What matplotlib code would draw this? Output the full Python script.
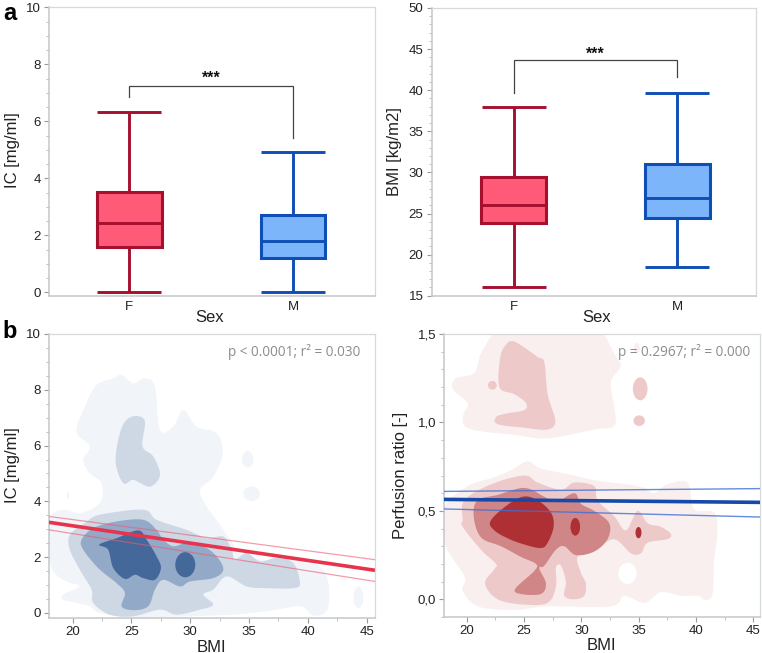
import numpy as np
import matplotlib
matplotlib.use("Agg")
import matplotlib.pyplot as plt
from matplotlib.patches import Ellipse
from matplotlib.ticker import MultipleLocator, FixedLocator

plt.rcParams['font.family'] = ['Liberation Sans', 'DejaVu Sans']

W, H = 762, 653
sex = ["F", "M"]
# box stats: whisker low, q1, median, q3, whisker high
ic_f = [0.03, 1.60, 2.42, 3.52, 6.33]
ic_m = [0.03, 1.20, 1.80, 2.70, 4.92]
bmi_f = [16.0, 23.8, 26.0, 29.5, 38.0]
bmi_m = [18.5, 24.5, 26.9, 31.0, 39.6]

# regression lines (BMI at the two ends, value, upper band, lower band)
bmi_ends = [18.0, 45.7]
ic_fit = [3.25, 1.53]
ic_hi = [3.46, 1.91]
ic_lo = [2.98, 1.13]
pr_fit = [0.565, 0.548]
pr_hi = [0.61, 0.626]
pr_lo = [0.511, 0.465]

# density contours of IC vs BMI (BMI, IC)
ic_l1 = [(24.17,8.53),(25.16,8.23),(26.15,8.41),(27.0,8.11),(27.43,6.56),(28.56,6.68),(29.41,7.28),(30.54,6.68),
         (32.24,6.44),(32.76,5.73),(31.96,4.89),(30.83,4.42),(31.39,3.82),(32.24,3.34),(33.38,2.63),(34.23,2.15),
         (36.21,1.91),(37.91,2.03),(39.47,1.91),(41.03,1.67),(41.74,1.07),(41.74,0.24),(41.17,-0.06),(40.32,-0.06),
         (39.33,0.24),(36.5,0.06),(33.66,-0.06),(29.41,-0.12),(25.16,-0.16),(22.32,0.0),(21.47,0.24),(20.34,0.36),
         (19.21,0.48),(19.21,0.66),(20.62,0.95),(19.49,1.13),(18.5,1.43),(18.07,1.91),(18.0,3.34),(19.21,3.7),
         (20.62,3.58),(22.32,3.94),(22.47,4.65),(21.47,5.01),(20.91,5.49),(21.47,5.97),(20.34,6.5),(21.05,7.4),
         (22.04,8.17),(23.46,8.41)]
ic_l2_up = [(25.44,7.06),(26.15,6.86),(25.95,5.97),(26.86,5.61),(27.43,4.95),(26.58,4.53),(25.16,4.77),(24.31,4.65),
            (23.66,5.43),(24.02,6.44),(24.59,6.92)]
ic_l2_low = [(22.32,3.52),(26.01,3.7),(27.14,3.34),(29.69,2.98),(31.39,2.68),(32.81,2.74),(33.52,2.27),(33.8,1.91),
             (34.8,2.15),(35.93,1.85),(37.35,1.97),(38.76,1.79),(39.33,1.07),(38.76,0.89),(36.5,0.89),(34.8,0.95),
             (33.1,1.31),(31.96,0.84),(31.11,0.66),(31.96,0.3),(30.83,0.12),(28.84,-0.06),(27.43,0.12),(25.16,-0.12),
             (23.17,-0.06),(21.76,0.36),(21.62,0.84),(20.62,1.55),(19.77,2.27),(19.77,2.8),(21.05,3.22)]
ic_l3 = [(21.76,3.04),(23.74,3.28),(26.01,3.34),(27.14,2.98),(27.71,2.63),(28.56,2.39),(29.69,2.51),(31.11,2.39),
         (32.24,2.03),(32.81,1.55),(31.96,1.25),(29.98,1.13),(29.13,0.95),(27.71,1.19),(27.0,0.84),(26.43,0.24),
         (25.16,0.1),(24.17,0.24),(24.45,0.72),(23.74,1.07),(22.18,1.61),(20.91,2.27),(20.77,2.63)]
ic_l4 = [(22.27,2.45),(23.74,2.68),(25.58,2.96),(26.29,2.63),(27.14,2.03),(27.51,1.61),(27.0,1.19),(26.01,1.25),
         (25.3,1.37),(24.45,1.22),(23.46,1.61),(23.03,2.27)]
# small islands: BMI, IC, half width, half height
ic_isl1 = [(34.88,5.51,0.48,0.30),(35.22,4.27,0.70,0.26),(44.29,0.56,0.42,0.38),(19.63,4.21,0.10,0.12)]
ic_isl4 = [(29.58,1.73,0.85,0.45)]

# density contours of perfusion ratio vs BMI (BMI, ratio)
pr_l1_up = [(22.56,1.52),(23.8,1.53),(27.0,1.53),(30.5,1.53),(31.7,1.52),(32.86,1.39),(33.44,1.32),(32.57,1.23),
            (32.86,1.09),(32.86,0.98),(31.12,0.96),(27.06,0.91),(24.15,0.93),(21.25,0.95),(19.8,0.98),(19.74,1.05),
            (20.09,1.11),(18.78,1.19),(19.07,1.25),(20.67,1.28),(21.25,1.39)]
pr_l1_low = [(25.31,0.78),(26.47,0.74),(29.38,0.70),(31.41,0.67),(34.02,0.65),(35.48,0.63),(36.35,0.60),(37.51,0.65),
             (39.25,0.66),(39.83,0.51),(41.57,0.49),(41.86,0.37),(41.57,0.22),(41.43,0.03),(40.85,0.0),(40.12,0.02),
             (38.67,0.02),(36.93,0.04),(35.48,-0.02),(33.73,0.02),(32.57,-0.04),(27.06,-0.04),(24.15,-0.06),(20.96,-0.04),
             (19.65,0.05),(19.8,0.13),(18.05,0.32),(18.05,0.52),(20.09,0.64),(22.41,0.69),(24.15,0.74)]
pr_l2_up = [(24.01,1.46),(24.88,1.43),(26.18,1.37),(26.77,1.34),(27.06,1.16),(27.72,1.01),(27.06,0.96),(25.02,0.97),
            (22.7,0.99),(22.56,1.03),(23.43,1.05),(25.02,1.07),(25.17,1.11),(24.15,1.16),(22.85,1.2),(22.93,1.37),
            (23.43,1.44)]
pr_l2_low = [(25.02,0.70),(26.18,0.66),(28.22,0.62),(29.38,0.66),(31.12,0.64),(31.41,0.56),(32.86,0.47),(33.88,0.39),
             (34.9,0.50),(35.77,0.43),(36.93,0.41),(37.8,0.37),(37.51,0.34),(35.77,0.32),(35.19,0.26),(34.31,0.26),
             (32.86,0.34),(31.12,0.28),(29.67,0.24),(29.96,0.15),(30.39,0.09),(30.25,0.02),(29.38,0.0),(28.51,0.02),
             (28.65,0.10),(28.22,0.19),(27.78,0.18),(27.78,0.07),(27.06,-0.02),(25.02,-0.03),(22.7,0.0),(21.6,0.09),
             (22.41,0.17),(22.56,0.2),(21.25,0.28),(19.65,0.41),(19.65,0.45),(19.8,0.56),(22.12,0.65)]
pr_l3 = [(20.96,0.56),(22.7,0.59),(25.02,0.63),(26.77,0.58),(27.78,0.55),(29.38,0.60),(29.96,0.54),(31.12,0.50),
         (32.43,0.43),(32.28,0.34),(31.12,0.27),(29.52,0.25),(28.51,0.30),(27.78,0.28),(26.77,0.19),(26.33,0.175),
         (26.91,0.09),(26.47,0.03),(24.73,0.03),(24.24,0.06),(25.89,0.16),(26.04,0.20),(24.73,0.24),(22.99,0.30),
         (21.25,0.35),(20.61,0.47)]
pr_l4 = [(22.06,0.44),(23.28,0.52),(24.88,0.58),(26.18,0.56),(27.35,0.49),(27.58,0.41),(27.06,0.32),(26.47,0.29),
         (25.02,0.31),(23.57,0.345),(22.41,0.39)]
pr_isl1 = [(34.84,1.42,0.25,0.03),(40.85,0.05,0.55,0.055)]
pr_hole = [(34.02,0.147,0.8,0.06)]
pr_isl2 = [(22.24,1.21,0.38,0.025),(35.13,1.19,0.64,0.065),(35.04,1.01,0.5,0.03)]
pr_isl4 = [(29.47,0.41,0.42,0.05),(34.98,0.377,0.26,0.032)]

BLUES = ['#f1f4f8', '#ced8e5', '#92a9c8', '#44689a']
REDS = ['#f9efef', '#eec9c9', '#d08586', '#ae2f34']
TXT = '#222222'
SP = '#c4c6c8'


def rect(l, t, r, b):
    return [l / W, 1 - b / H, (r - l) / W, (b - t) / H]


def smooth(pts, n=10):
    p = np.array(pts, float)
    m = len(p)
    out = []
    t = np.linspace(0, 1, n, endpoint=False)[:, None]
    for i in range(m):
        p0, p1, p2, p3 = p[i - 1], p[i], p[(i + 1) % m], p[(i + 2) % m]
        out.append(0.5 * (2 * p1 + (p2 - p0) * t + (2 * p0 - 5 * p1 + 4 * p2 - p3) * t ** 2
                          + (3 * p1 - p0 - 3 * p2 + p3) * t ** 3))
    return np.vstack(out)


def blob(ax, pts, c, z):
    s = smooth(pts)
    ax.fill(s[:, 0], s[:, 1], color=c, lw=0, zorder=z)


def islands(ax, items, c, z):
    for x, y, rx, ry in items:
        ax.add_patch(Ellipse((x, y), 2 * rx, 2 * ry, fc=c, ec='none', zorder=z))


def style(ax):
    for s in ax.spines.values():
        s.set_color('#d6d8da')
        s.set_linewidth(0.9)
    ax.spines['left'].set_color(SP)
    ax.spines['bottom'].set_color(SP)
    ax.spines['left'].set_linewidth(1.1)
    ax.spines['bottom'].set_linewidth(1.1)
    ax.tick_params(axis='both', which='major', color='#9a9a9a', length=3.5, width=0.8,
                   labelsize=9.5, labelcolor=TXT, pad=2.5)
    ax.tick_params(axis='both', which='minor', color='#b5b5b5', length=2.2, width=0.6)


def labels(ax, xlab, ylab, xpx, ypx, yl_x, yl_y):
    box = ax.get_position()
    l, r = box.x0 * W, box.x1 * W
    t, b = (1 - box.y1) * H, (1 - box.y0) * H
    ax.set_xlabel(xlab, fontsize=12, color=TXT, va='center')
    ax.set_ylabel(ylab, fontsize=12, color=TXT, va='center')
    ax.xaxis.set_label_coords((xpx - l) / (r - l), (b - ypx) / (b - t))
    ax.yaxis.set_label_coords((yl_x - l) / (r - l), (b - yl_y) / (b - t))


def boxes(ax, a, b, bracket, star_y):
    colors = [('#ff5a78', '#a5102f'), ('#7db5fb', '#0f4fb5')]
    for i, (v, (f, e)) in enumerate(zip((a, b), colors)):
        st = [dict(whislo=v[0], q1=v[1], med=v[2], q3=v[3], whishi=v[4], fliers=[])]
        lp = dict(color=e, linewidth=2.1, solid_capstyle='butt')
        ax.bxp(st, positions=[i], widths=0.395, patch_artist=True, showfliers=False, capwidths=0.39,
               boxprops=dict(facecolor=f, edgecolor=e, linewidth=2.2), medianprops=lp,
               whiskerprops=lp, capprops=lp, manage_ticks=False)
    ax.plot([0, 0, 1, 1], bracket, color='#444444', lw=0.9, solid_joinstyle='miter', zorder=5)
    ax.text(0.5, star_y, '***', ha='center', va='center', fontsize=11.5, fontweight='bold', color='#111111')
    ax.set_xticks([0, 1], sex)


fig = plt.figure(figsize=(W / 100, H / 100), dpi=100, facecolor='white')

# a, left
ax = fig.add_axes(rect(49, 7.3, 375, 295.7))
boxes(ax, ic_f, ic_m, [6.84, 7.25, 7.25, 5.4], 7.5)
ax.set_xlim(-0.49, 1.5)
ax.set_ylim(-0.117, 10)
ax.yaxis.set_major_locator(MultipleLocator(2))
ax.yaxis.set_minor_locator(MultipleLocator(0.5))
style(ax)
ax.tick_params(axis='x', length=0, pad=4)
labels(ax, 'Sex', 'IC [mg/ml]', 210, 317, 13, 150)

# a, right
ax = fig.add_axes(rect(431.7, 8, 756, 295.7))
boxes(ax, bmi_f, bmi_m, [39.7, 43.63, 43.63, 41.57], 44.4)
ax.set_xlim(-0.5, 1.48)
ax.set_ylim(15, 50)
ax.yaxis.set_major_locator(MultipleLocator(5))
ax.yaxis.set_minor_locator(MultipleLocator(1))
style(ax)
ax.tick_params(axis='x', length=0, pad=4)
labels(ax, 'Sex', 'BMI [kg/m2]', 597, 317, 394, 152)

# b, left
ax = fig.add_axes(rect(49, 334, 375, 618))
blob(ax, ic_l1, BLUES[0], 1)
islands(ax, ic_isl1, BLUES[0], 1)
blob(ax, ic_l2_up, BLUES[1], 2)
blob(ax, ic_l2_low, BLUES[1], 2)
blob(ax, ic_l3, BLUES[2], 3)
blob(ax, ic_l4, BLUES[3], 4)
islands(ax, ic_isl4, BLUES[3], 4)
ax.plot(bmi_ends, ic_hi, color='#ee5a70', alpha=0.6, lw=0.9, zorder=5)
ax.plot(bmi_ends, ic_lo, color='#ee5a70', alpha=0.6, lw=0.9, zorder=5)
ax.plot(bmi_ends, ic_fit, color='#e8334c', lw=2.6, zorder=6, solid_capstyle='butt')
ax.set_xlim(18.0, 45.7)
ax.set_ylim(-0.18, 10)
ax.xaxis.set_major_locator(MultipleLocator(5))
ax.xaxis.set_minor_locator(MultipleLocator(2.5))
ax.yaxis.set_major_locator(MultipleLocator(2))
ax.yaxis.set_minor_locator(MultipleLocator(0.5))
style(ax)
labels(ax, 'BMI', 'IC [mg/ml]', 211, 647, 13, 465)
ax.text(0.956, 0.938, 'p < 0.0001; r² = 0.030', transform=ax.transAxes, ha='right', va='center',
        fontsize=9.8, color='#8c8c8c', family=['Open Sans', 'DejaVu Sans'], zorder=8)

# b, right
ax = fig.add_axes(rect(444.3, 334, 760.3, 617))
blob(ax, pr_l1_up, REDS[0], 1)
blob(ax, pr_l1_low, REDS[0], 1)
islands(ax, pr_isl1, REDS[0], 1)
islands(ax, pr_hole, 'white', 1.5)
blob(ax, pr_l2_up, REDS[1], 2)
blob(ax, pr_l2_low, REDS[1], 2)
islands(ax, pr_isl2, REDS[1], 2)
blob(ax, pr_l3, REDS[2], 3)
blob(ax, pr_l4, REDS[3], 4)
islands(ax, pr_isl4, REDS[3], 4)
ax.plot(bmi_ends, pr_hi, color='#3f6fd6', alpha=0.8, lw=1.0, zorder=5)
ax.plot(bmi_ends, pr_lo, color='#3f6fd6', alpha=0.8, lw=1.0, zorder=5)
ax.plot(bmi_ends, pr_fit, color='#154aa8', lw=2.6, zorder=6, solid_capstyle='butt')
ax.set_xlim(18.05, 45.6)
ax.set_ylim(-0.10, 1.5)
ax.xaxis.set_major_locator(MultipleLocator(5))
ax.xaxis.set_minor_locator(MultipleLocator(2.5))
ax.yaxis.set_major_locator(FixedLocator([0.0, 0.5, 1.0, 1.5]))
ax.set_yticklabels(['0,0', '0,5', '1,0', '1,5'])
ax.yaxis.set_minor_locator(MultipleLocator(0.1))
style(ax)
labels(ax, 'BMI', 'Perfusion ratio [-]', 601, 645, 400, 475)
ax.text(0.968, 0.938, 'p = 0.2967; r² = 0.000', transform=ax.transAxes, ha='right', va='center',
        fontsize=9.8, color='#8c8c8c', family=['Open Sans', 'DejaVu Sans'], zorder=8)

fig.text(9.5 / W, 1 - 13 / H, 'a', fontsize=17, fontweight='bold', ha='center', va='center', color='black')
fig.text(10 / W, 1 - 332 / H, 'b', fontsize=17, fontweight='bold', ha='center', va='center', color='black')

fig.savefig('out.png', dpi=100)
